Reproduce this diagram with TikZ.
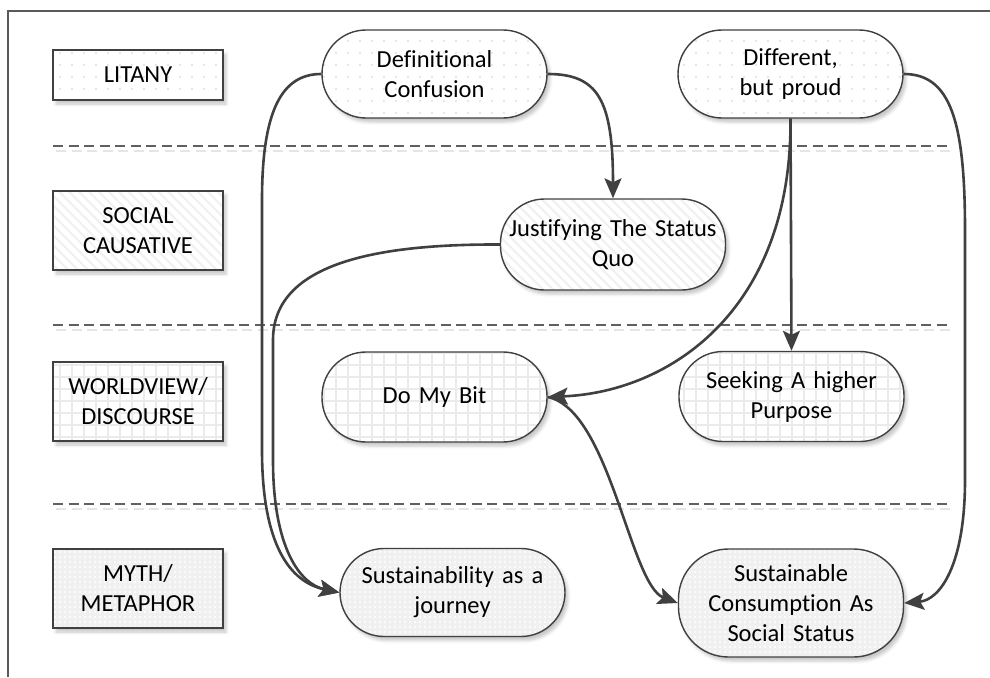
\documentclass[tikz,border=0pt]{standalone}
\usepackage{fontspec}
\setmainfont{Carlito}[Ligatures=CommonOff]
\usetikzlibrary{arrows.meta,patterns.meta,shadows.blur}
\definecolor{edge}{HTML}{404040}
\definecolor{sepc}{HTML}{606060}
\definecolor{framec}{HTML}{5A5A5A}
\begin{document}
\begin{tikzpicture}[x=1pt,y=-1pt,
  every node/.style={font=\fontsize{24.5}{30}\selectfont, align=center, text=black},
  shad/.style={blur shadow={shadow xshift=3pt, shadow yshift=-4pt, shadow blur radius=3pt, shadow opacity=22}},
  lbl/.style={shad, preaction={fill=white}, draw=edge, line width=1.4pt, rectangle, minimum width=170pt, inner sep=0pt},
  stad/.style={shad, preaction={fill=white}, draw=edge, line width=1.4pt, rectangle, rounded corners=44pt,
    minimum width=225pt, minimum height=88pt, text width=223pt, inner xsep=1pt, inner ysep=0pt},
  dotsparse/.style={pattern={Dots[distance=12pt, radius=1.1pt]}, pattern color=black!12},
  stripes/.style={pattern={Lines[angle=-45, distance=7pt, line width=2pt]}, pattern color=black!6},
  grid/.style={pattern={Hatch[distance=12pt, line width=2.8pt]}, pattern color=black!8},
  dense/.style={preaction={fill=black!6}, pattern={Dots[distance=5pt, radius=1.2pt]}, pattern color=white},
  sep/.style={draw=sepc, line width=1.4pt, dash pattern=on 10pt off 5.5pt},
  sepshadow/.style={draw=black!10, line width=2pt, dash pattern=on 10pt off 5.5pt},
  conn/.style={draw=edge, line width=2.6pt, -{Stealth[length=20pt, width=17pt, inset=4pt]}}
]
\useasboundingbox (0,0) rectangle (990,677);
% frame
\draw[framec, line width=1.2pt] (8,677) -- (8,11) -- (990,11);
% separators
\foreach \yy in {146,325,504} {
  \draw[sepshadow] (56,\yy+5) -- (953,\yy+5);
  \draw[sep] (53,\yy) -- (950,\yy);
}
% level labels
\node[lbl, dotsparse, minimum height=50pt] (l1) at (138,75) {LITANY};
\node[lbl, stripes, minimum height=79pt] (l2) at (138,230.5) {SOCIAL\\CAUSATIVE};
\node[lbl, grid, minimum height=79pt] (l3) at (138,401.5) {WORLDVIEW/\\DISCOURSE};
\node[lbl, dense, minimum height=79pt] (l4) at (138,588.5) {MYTH/\\METAPHOR};
% concept nodes
\node[stad, dotsparse] (def) at (434.5,74) {Definitional\\Confusion};
\node[stad, dotsparse] (dif) at (790.5,74) {Different,\\but proud};
\node[stad, stripes, minimum height=91pt] (jus) at (613,244.5) {Justifying The Status\\Quo};
\node[stad, grid, minimum height=90pt] (dmb) at (434.5,397) {Do My Bit};
\node[stad, grid, minimum height=90pt] (see) at (791.5,396.5) {Seeking A higher\\Purpose};
\node[stad, dense] (sus) at (452.5,592.5) {Sustainability as a\\journey};
\node[stad, dense, minimum height=108pt, rounded corners=50pt] (con) at (791,603) {Sustainable\\Consumption As\\Social Status};
% connectors
\draw[conn] (def.west) .. controls (282,74) and (262,110) .. (262,200) -- (262,450) .. controls (262,545) and (290,582) .. (sus.west);
\draw[conn] (jus.west) .. controls (380,244) and (273,262) .. (273,340) -- (273,460) .. controls (273,548) and (300,584) .. (sus.west);
\draw[conn] (def.east) .. controls (598,74) and (613,100) .. (jus.north);
\draw[conn] (dif.south) -- (see.north);
\draw[conn] (dif.south) .. controls (792,310) and (670,392) .. (dmb.east);
\draw[conn] (dif.east) .. controls (950,74) and (965,120) .. (965,230) -- (965,480) .. controls (965,565) and (940,600) .. (con.east);
\draw[conn] (dmb.east) .. controls (610,410) and (630,585) .. (con.west);
\end{tikzpicture}
\end{document}
